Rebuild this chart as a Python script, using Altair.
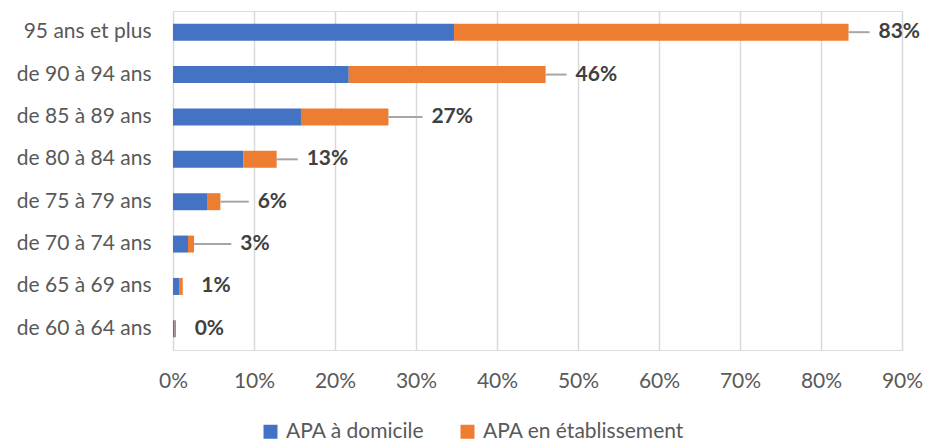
import altair as alt
import pandas as pd

# Age groups, top to bottom
age_groups = [
    "95 ans et plus",
    "de 90 à 94 ans",
    "de 85 à 89 ans",
    "de 80 à 84 ans",
    "de 75 à 79 ans",
    "de 70 à 74 ans",
    "de 65 à 69 ans",
    "de 60 à 64 ans",
]

# Share of each age group receiving APA, by setting
apa_domicile = [0.347, 0.217, 0.158, 0.087, 0.042, 0.0185, 0.0075, 0.0020]
apa_etablissement = [0.487, 0.243, 0.108, 0.041, 0.0165, 0.0075, 0.0045, 0.0017]

# Distance between bar end and its total label (in axis units)
label_gap = [0.037, 0.037, 0.053, 0.037, 0.046, 0.057, 0.023, 0.023]

series = ["APA à domicile", "APA en établissement"]
colors = ["#4472C4", "#ED7D31"]

FONT = "Lato"
FS = 21

wide = pd.DataFrame({
    "age": age_groups,
    "APA à domicile": apa_domicile,
    "APA en établissement": apa_etablissement,
    "gap": label_gap,
})

base = alt.Chart(wide)

y_enc = alt.Y(
    "age:N",
    sort=age_groups,
    title=None,
    scale=alt.Scale(paddingInner=0.6, paddingOuter=0.3),
    axis=alt.Axis(
        ticks=False,
        domain=False,
        labelPadding=22,
        labelFontSize=FS,
        labelColor="#595959",
        labelFont=FONT,
        labelLimit=300,
    ),
)

x_scale = alt.Scale(domain=[0, 0.9], nice=False)

bars = (
    base.transform_fold(series, as_=["serie", "valeur"])
    .transform_calculate(ord="datum.serie === 'APA à domicile' ? 0 : 1")
    .mark_bar(size=17)
    .encode(
        x=alt.X(
            "valeur:Q",
            stack="zero",
            scale=x_scale,
            title=None,
            axis=alt.Axis(
                format=".0%",
                values=[i / 10 for i in range(10)],
                ticks=False,
                domain=False,
                labelFlush=False,
                labelPadding=20,
                labelFontSize=FS,
                labelColor="#595959",
                labelFont=FONT,
                grid=True,
                gridColor="#D9D9D9",
                gridWidth=1.5,
            ),
        ),
        y=y_enc,
        color=alt.Color(
            "serie:N",
            scale=alt.Scale(domain=series, range=colors),
            title=None,
            legend=alt.Legend(
                orient="none",
                direction="horizontal",
                legendX=87,
                legendY=410,
                symbolType="square",
                symbolSize=196,
                symbolStrokeWidth=0,
                labelFontSize=FS,
                labelColor="#595959",
                labelFont=FONT,
                labelLimit=400,
                labelOffset=5,
                columnPadding=32,
            ),
        ),
        order=alt.Order("ord:Q"),
    )
)

with_total = base.transform_calculate(
    total="datum['APA à domicile'] + datum['APA en établissement']"
).transform_calculate(label_x="datum.total + datum.gap")

leaders = (
    with_total.transform_filter("datum.gap > 0.03")
    .transform_calculate(line_end="datum.label_x - 0.011")
    .mark_rule(color="#A6A6A6", strokeWidth=2)
    .encode(
        x=alt.X("total:Q", scale=x_scale),
        x2="line_end:Q",
        y=alt.Y("age:N", sort=age_groups),
    )
)

labels = with_total.mark_text(
    align="left",
    baseline="middle",
    fontSize=FS,
    fontWeight="bold",
    color="#404040",
    font=FONT,
).encode(
    x=alt.X("label_x:Q", scale=x_scale),
    y=alt.Y("age:N", sort=age_groups),
    text=alt.Text("total:Q", format=".0%"),
)

chart = (
    alt.layer(bars, leaders, labels)
    .properties(
        width=729,
        height=339,
        autosize=alt.AutoSizeParams(type="none"),
        padding={"left": 173, "top": 11, "right": 25, "bottom": 93},
    )
    .configure_view(stroke=None)
    .configure(background="white")
)

chart.save("out.html", embed_options={"renderer": "svg", "actions": False})
